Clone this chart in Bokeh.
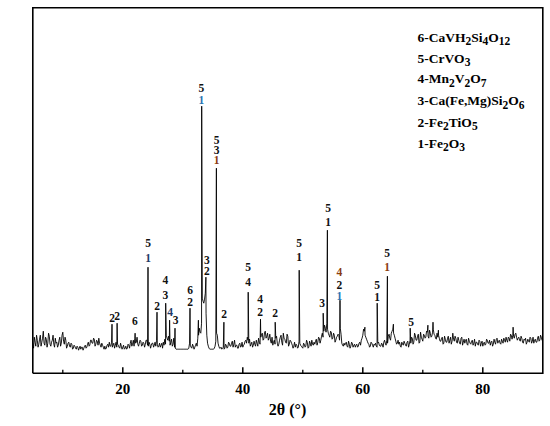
import numpy as np
from bokeh.plotting import figure
from bokeh.models import ColumnDataSource, Range1d, FixedTicker, Label
from bokeh.core.properties import value, field
from bokeh.embed import file_html
from bokeh.resources import INLINE
import math

# ---------------- data ----------------
# background read at 5.00, 5.25, ... 90.00
bg_start = 5.0
bg_step = 0.25
background = [
    30, 36, 27, 33,  # 5
    29, 38, 31, 42,  # 6
    28, 34, 30, 37,  # 7
    27, 33, 29, 35,  # 8
    31, 28, 36, 30,  # 9
    41, 29, 33, 27,  # 10
    31, 26, 29, 25,  # 11
    27, 24, 26, 25,  # 12
    24, 26, 25, 28,  # 13
    26, 31, 28, 33,  # 14
    30, 34, 29, 32,  # 15
    35, 28, 30, 26,  # 16
    27, 25, 29, 31,  # 17
    27, 26, 30, 28,  # 18
    26, 28, 25, 27,  # 19
    26, 24, 27, 25,  # 20
    28, 30, 27, 33,  # 21
    35, 31, 29, 30,  # 22
    32, 28, 30, 29,  # 23
    33, 27, 29, 28,  # 24
    30, 28, 27, 29,  # 25
    27, 26, 30, 31,  # 26
    34, 38, 33, 32,  # 27
    31, 27, 35, 25,  # 28
    24, 24, 24, 24,  # 29
    24, 24, 24, 24,  # 30
    25, 28, 25, 27,  # 31
    26, 30, 35, 45,  # 32
    40, 75, 70, 80,  # 33
    38, 27, 24, 24,  # 34
    24, 25, 32, 38,  # 35
    27, 25, 24, 26,  # 36
    25, 28, 26, 30,  # 37
    27, 32, 29, 26,  # 38
    28, 25, 30, 27,  # 39
    26, 29, 33, 36,  # 40
    30, 27, 31, 28,  # 41
    29, 33, 27, 31,  # 42
    36, 40, 34, 42,  # 43
    37, 33, 39, 30,  # 44
    28, 33, 35, 30,  # 45
    29, 36, 31, 40,  # 46
    34, 30, 37, 29,  # 47
    32, 28, 27, 26,  # 48
    28, 26, 30, 27,  # 49
    25, 29, 27, 31,  # 50
    26, 30, 33, 28,  # 51
    29, 34, 31, 35,  # 52
    33, 40, 42, 45,  # 53
    50, 40, 36, 41,  # 54
    35, 38, 33, 37,  # 55
    38, 45, 30, 27,  # 56
    28, 31, 26, 29,  # 57
    27, 30, 28, 26,  # 58
    29, 27, 31, 33,  # 59
    38, 42, 36, 32,  # 60
    29, 27, 30, 26,  # 61
    28, 27, 30, 28,  # 62
    27, 29, 31, 30,  # 63
    33, 37, 35, 40,  # 64
    44, 38, 32, 30,  # 65
    29, 27, 31, 28,  # 66
    30, 27, 32, 29,  # 67
    30, 35, 31, 38,  # 68
    33, 39, 31, 36,  # 69
    32, 38, 36, 41,  # 70
    35, 40, 37, 44,  # 71
    38, 34, 36, 35,  # 72
    32, 36, 30, 34,  # 73
    31, 37, 33, 29,  # 74
    40, 32, 35, 30,  # 75
    33, 29, 36, 31,  # 76
    30, 34, 28, 32,  # 77
    29, 33, 30, 27,  # 78
    31, 28, 32, 30,  # 79
    27, 31, 29, 33,  # 80
    30, 28, 32, 29,  # 81
    31, 34, 30, 33,  # 82
    29, 32, 35, 31,  # 83
    33, 36, 32, 38,  # 84
    38, 35, 40, 33,  # 85
    36, 32, 35, 30,  # 86
    33, 29, 34, 31,  # 87
    35, 32, 30, 34,  # 88
    31, 37, 33, 36,  # 89
    34,              # 90
]
# background read at 5.125, 5.375, ... 89.875
mid_start = 5.125
background_mid = [
    25, 31, 38, 26,  # 5
    34, 27, 35, 30,  # 6
    36, 26, 40, 29,  # 7
    31, 38, 26, 30,  # 8
    26, 33, 27, 38,  # 9
    32, 36, 25, 30,  # 10
    27, 30, 24, 28,  # 11
    25, 27, 23, 27,  # 12
    26, 23, 27, 25,  # 13
    29, 27, 33, 30,  # 14
    35, 27, 33, 28,  # 15
    30, 26, 28, 24,  # 16
    24, 28, 26, 27,  # 17
    31, 28, 25, 31,  # 18
    29, 26, 30, 24,  # 19
    28, 25, 24, 29,  # 20
    25, 33, 29, 27,  # 21
    30, 36, 27, 33,  # 22
    27, 31, 26, 33,  # 23
    28, 31, 25, 30,  # 24
    26, 31, 33, 26,  # 25
    30, 28, 25, 28,  # 26
    29, 35, 37, 28,  # 27
    34, 29, 26, 24,  # 28
    24, 24, 24, 24,  # 29
    24, 24, 24, 24,  # 30
    30, 26, 29, 24,  # 31
    28, 27, 38, 41,  # 32
    50, 72, 74, 60,  # 33
    30, 25, 24, 24,  # 34
    24, 27, 40, 30,  # 35
    25, 26, 25, 24,  # 36
    29, 25, 31, 27,  # 37
    30, 26, 33, 28,  # 38
    25, 29, 26, 31,  # 39
    28, 32, 30, 33,  # 40
    34, 29, 26, 32,  # 41
    27, 30, 35, 29,  # 42
    39, 33, 41, 35,  # 43
    40, 35, 32, 36,  # 44
    31, 29, 37, 27,  # 45
    33, 38, 28, 35,  # 46
    31, 39, 27, 33,  # 47
    30, 25, 31, 29,  # 48
    25, 32, 28, 26,  # 49
    30, 26, 33, 25,  # 50
    32, 27, 29, 31,  # 51
    32, 28, 36, 30,  # 52
    37, 36, 48, 41,  # 53
    44, 38, 42, 34,  # 54
    40, 31, 36, 39,  # 55
    33, 39, 28, 30,  # 56
    30, 27, 32, 25,  # 57
    31, 26, 29, 28,  # 58
    26, 30, 28, 35,  # 59
    44, 38, 34, 30,  # 60
    26, 31, 28, 29,  # 61
    30, 26, 31, 27,  # 62
    30, 26, 33, 28,  # 63
    30, 39, 33, 42,  # 64
    40, 35, 29, 33,  # 65
    31, 26, 29, 32,  # 66
    28, 31, 26, 33,  # 67
    36, 29, 40, 33,  # 68
    37, 30, 41, 34,  # 69
    39, 35, 42, 37,  # 70
    43, 36, 41, 39,  # 71
    35, 40, 38, 32,  # 72
    35, 29, 37, 31,  # 73
    35, 30, 36, 32,  # 74
    34, 37, 31, 36,  # 75
    30, 35, 28, 34,  # 76
    33, 29, 35, 30,  # 77
    32, 28, 34, 31,  # 78
    29, 33, 27, 32,  # 79
    30, 28, 34, 30,  # 80
    33, 31, 27, 34,  # 81
    29, 35, 32, 30,  # 82
    34, 30, 33, 36,  # 83
    31, 35, 39, 34,  # 84
    37, 39, 36, 35,  # 85
    33, 37, 31, 34,  # 86
    35, 31, 32, 36,  # 87
    30, 36, 33, 31,  # 88
    35, 32, 38, 33,  # 89
]

peak_theta = [18.2, 19.05, 22.05, 24.2, 25.7, 27.15, 27.8, 28.7, 31.2, 32.6,
              33.15, 33.85, 35.6, 36.85, 40.9, 42.95, 45.4, 49.4, 53.4, 54.1,
              56.2, 60.35, 62.4, 64.1, 65.1, 67.9, 70.85, 71.7, 72.6, 85.05]
peak_int = [49, 50, 40, 106, 61, 70, 53, 45, 65, 53,
            267, 96, 205, 51, 81, 54, 51, 103, 60, 143,
            73, 46, 70, 97, 49, 45, 48, 51, 43, 46]

# peak labels (phase numbers)
lab_theta = [18.2, 19.05, 22.0, 24.2, 24.2, 25.7, 27.1, 27.1, 27.9, 28.8,
             31.2, 31.2, 33.1, 33.1, 34.0, 34.0, 35.65, 35.65, 35.65, 36.9,
             40.9, 40.9, 42.9, 42.9, 45.4, 49.4, 49.4, 53.2, 54.2, 54.2,
             56.1, 56.1, 56.1, 62.4, 62.4, 64.05, 64.05, 68.05]
lab_int = [55, 57, 52, 130, 115, 67, 93, 78, 61, 53,
           83, 71, 285, 273, 113, 102, 233, 223, 213, 59,
           106, 91, 74, 61, 60, 130, 116, 70, 165, 151,
           101, 88, 77, 88, 76, 120, 106, 51]
lab_text = ["2", "2", "6", "5", "1", "2", "4", "3", "4", "3",
            "6", "2", "5", "1", "3", "2", "5", "3", "1", "2",
            "5", "4", "4", "2", "2", "5", "1", "3", "5", "1",
            "4", "2", "1", "5", "1", "5", "1", "5"]
K, N, B, R = "#111111", "#1f3a68", "#2a73b3", "#8a3b10"
lab_color = [K, K, K, K, N, K, K, K, N, K,
             K, K, K, B, K, K, K, K, R, K,
             K, K, K, K, K, K, K, K, K, K,
             R, K, B, K, K, K, R, K]

major_ticks = [20, 40, 60, 80]
minor_ticks = [10, 30, 50, 70]

# phase legend: (text, is_subscript) pieces
legend_rows = [
    [("6-CaVH", False), ("2", True), ("Si", False), ("4", True), ("O", False), ("12", True)],
    [("5-CrVO", False), ("3", True)],
    [("4-Mn", False), ("2", True), ("V", False), ("2", True), ("O", False), ("7", True)],
    [("3-Ca(Fe,Mg)Si", False), ("2", True), ("O", False), ("6", True)],
    [("2-Fe", False), ("2", True), ("TiO", False), ("5", True)],
    [("1-Fe", False), ("2", True), ("O", False), ("3", True)],
]

# ---------------- layout ----------------
X0, X1 = 5, 90
PPD = 6.0                      # pixels per degree
BOX_LEFT, BOX_TOP, BOX_BOTTOM = 32.3, 7.3, 372.7   # screen px of drawn box
FR_LEFT, FR_RIGHT, FR_TOP, FR_BOTTOM = 28, 546, 3, 377   # bokeh frame
W, H = 550, 426
x_lo = X0 - (BOX_LEFT - FR_LEFT) / PPD
x_hi = x_lo + (FR_RIGHT - FR_LEFT) / PPD
y_lo = -(FR_BOTTOM - BOX_BOTTOM)
y_hi = y_lo + (FR_BOTTOM - FR_TOP)
Y_TOP = BOX_BOTTOM - BOX_TOP

bg_theta = bg_start + bg_step * np.arange(len(background))
mid_theta = mid_start + bg_step * np.arange(len(background_mid))
theta = np.concatenate([bg_theta, mid_theta, np.array(peak_theta)])
inten = np.concatenate([np.array(background, float), np.array(background_mid, float),
                        np.array(peak_int, float)])
order = np.argsort(theta, kind="stable")
theta, inten = theta[order], inten[order]

p = figure(width=W, height=H, x_range=Range1d(x_lo, x_hi), y_range=Range1d(y_lo, y_hi),
           output_backend="svg", toolbar_location=None, y_axis_location=None,
           min_border_left=FR_LEFT, min_border_right=W - FR_RIGHT,
           min_border_top=FR_TOP, min_border_bottom=H - FR_BOTTOM)
p.background_fill_color = "white"
p.border_fill_color = "white"
p.grid.grid_line_color = None
p.outline_line_color = None

ax = p.xaxis[0]
ax.ticker = FixedTicker(ticks=major_ticks, minor_ticks=minor_ticks)
ax.axis_line_color = None
ax.major_tick_line_color = None
ax.minor_tick_line_color = None
ax.major_tick_in = 0
ax.major_tick_out = 0
ax.minor_tick_in = 0
ax.minor_tick_out = 0
ax.major_label_standoff = 6
ax.major_label_text_font = "Liberation Serif"
ax.major_label_text_font_style = "bold"
ax.major_label_text_font_size = "15px"
ax.major_label_text_color = "black"
ax.axis_label = "2θ (°)"
ax.axis_label_standoff = 4
ax.axis_label_text_font = "Liberation Serif"
ax.axis_label_text_font_style = "bold"
ax.axis_label_text_font_size = "16px"
ax.axis_label_text_color = "black"

# plot box and inward ticks
p.line([X0, X1, X1, X0, X0], [0, 0, Y_TOP, Y_TOP, 0], line_color="black",
       line_width=1.6, line_join="miter")
p.segment(x0=major_ticks, y0=[0] * len(major_ticks), x1=major_ticks,
          y1=[6] * len(major_ticks), line_color="black", line_width=1.5)
p.segment(x0=minor_ticks, y0=[0] * len(minor_ticks), x1=minor_ticks,
          y1=[3.5] * len(minor_ticks), line_color="black", line_width=1.3)

p.line(theta, inten, line_color="black", line_width=0.9)

lab_src = ColumnDataSource(dict(x=lab_theta, y=lab_int, t=lab_text, c=lab_color))
p.text(x="x", y="y", text="t", source=lab_src, text_color=field("c"),
       text_font=value("Liberation Serif"), text_font_style="bold",
       text_font_size=value("11.5px"), text_align="center", text_baseline="middle")

# legend text pieces with lowered subscripts
widths = {'0': .5, '1': .5, '2': .5, '3': .5, '4': .5, '5': .5, '6': .5, '7': .5,
          '8': .5, '9': .5, '-': .333, 'C': .722, 'a': .5, 'V': .722, 'H': .778,
          'S': .556, 'i': .278, 'O': .778, 'r': .444, 'M': .944, 'n': .556,
          '(': .333, ')': .333, 'F': .611, 'e': .444, ',': .25, 'g': .5, 'T': .667}
MAIN, SUB, DROP = 13.5, 11.5, 4.0
row_y = [32.3, 53.3, 74.0, 96.0, 117.3, 138.3]
start_x = 417.0
lx, ly, lt, ls = [], [], [], []
for row, yc in zip(legend_rows, row_y):
    cx = start_x
    base = yc + 0.331 * MAIN
    for txt, sub in row:
        size = SUB if sub else MAIN
        yb = base + (DROP if sub else 0)
        lx.append(X0 + (cx - BOX_LEFT) / PPD)
        ly.append(BOX_BOTTOM - yb)
        lt.append(txt)
        ls.append("%gpx" % size)
        cx += sum(widths.get(ch, .5) for ch in txt) * size
leg_src = ColumnDataSource(dict(x=lx, y=ly, t=lt, s=ls))
p.text(x="x", y="y", text="t", source=leg_src, text_color="black",
       text_font=value("Liberation Serif"), text_font_style="bold",
       text_font_size=field("s"), text_align="left", text_baseline="alphabetic")

ylab = Label(x=11 - FR_LEFT, y=FR_BOTTOM - 185, x_units="screen", y_units="screen",
             text="Intensity", angle=math.pi / 2, text_align="center",
             text_baseline="middle", text_font="Liberation Serif",
             text_font_style="bold", text_font_size="17px", text_color="black")
p.add_layout(ylab)

open("out.html", "w").write(file_html(p, INLINE))
